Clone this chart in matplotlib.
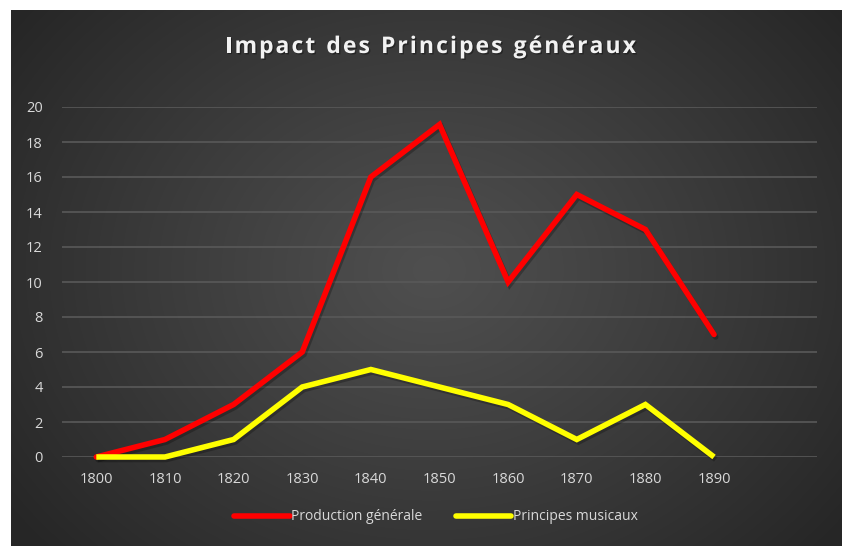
import numpy as np
import matplotlib
matplotlib.use("Agg")
from matplotlib import pyplot as plt
from matplotlib import patheffects as pe


YEARS = ["1800", "1810", "1820", "1830", "1840", "1850", "1860", "1870", "1880", "1890"]
PRODUCTION = [0, 1, 3, 6, 16, 19, 10, 15, 13, 7]
MUSICAUX = [0, 0, 1, 4, 5, 4, 3, 1, 3, 0]
Y_TICKS = [0, 2, 4, 6, 8, 10, 12, 14, 16, 18, 20]

TITLE = "Impact des Principes généraux"
LABEL_PROD = "Production générale"
LABEL_MUS = "Principes musicaux"

W, H = 843, 546
FONT = "Open Sans"
TEXT_COLOR = "#d9d9d9"


def px_box(x0: float, y0: float, x1: float, y1: float) -> list[float]:
    # pixel coords (top-left origin) -> figure fraction [left, bottom, width, height]
    return [x0 / W, 1 - y1 / H, (x1 - x0) / W, (y1 - y0) / H]


def spaced_title(fig, text: str, x0: float, x1: float, y: float, **kw) -> None:
    # draw title char by char so letter spacing can be widened like the original
    renderer = fig.canvas.get_renderer()
    widths = []
    for ch in text:
        t = fig.text(0, 0, ch if ch != " " else "a", **kw)
        widths.append(t.get_window_extent(renderer).width * (0.5 if ch == " " else 1.0))
        t.remove()
    extra = ((x1 - x0) - sum(widths)) / (len(text) - 1)
    x = x0
    for ch, w in zip(text, widths):
        if ch != " ":
            fig.text(x / W, 1 - y / H, ch, ha="left", va="center", **kw)
        x += w + extra


def main() -> None:
    plt.rcParams["font.family"] = [FONT, "DejaVu Sans"]
    fig = plt.figure(figsize=(W / 100, H / 100), dpi=100)
    fig.patch.set_facecolor("white")

    # dark panel with radial gradient
    bg = fig.add_axes(px_box(11, 10, 842, 546), zorder=-10)
    yy, xx = np.mgrid[0:536, 0:831]
    cx, cy = 420.0, 260.0
    r = np.sqrt(((xx - cx) / 520.0) ** 2 + ((yy - cy) / 420.0) ** 2)
    r = np.clip(r, 0, 1)
    val = 0.31 - (0.31 - 0.15) * r ** 1.1
    img = np.dstack([val, val, val])
    bg.imshow(img, aspect="auto", interpolation="bilinear")
    bg.axis("off")

    ax = fig.add_axes(px_box(62, 107, 817, 457))
    ax.set_facecolor("none")
    x = np.arange(len(YEARS))

    shadow = [pe.SimpleLineShadow(offset=(1.2, -1.8), shadow_color="black", alpha=0.25), pe.Normal()]
    ax.plot(x, PRODUCTION, color="#ff0000", lw=4.0, label=LABEL_PROD, clip_on=False,
            solid_capstyle="round", solid_joinstyle="miter", path_effects=shadow, zorder=3)
    ax.plot(x, MUSICAUX, color="#ffff00", lw=4.0, label=LABEL_MUS, clip_on=False,
            solid_capstyle="butt", solid_joinstyle="miter", path_effects=shadow, zorder=3)

    ax.set_xlim(-0.5, len(YEARS) + 0.5)
    ax.set_ylim(0, 20)
    ax.set_yticks(Y_TICKS)
    ax.set_xticks(x)
    ax.set_xticklabels(YEARS)
    ax.grid(axis="y", color="#595959", lw=1.2)
    ax.set_axisbelow(True)
    for s in ax.spines.values():
        s.set_visible(False)
    ax.tick_params(axis="both", length=0, colors=TEXT_COLOR, labelsize=10.5)
    ax.tick_params(axis="y", pad=14)
    ax.tick_params(axis="x", pad=11)

    spaced_title(fig, TITLE, 225, 636, 47, color="#f2f2f2", fontsize=16.5, fontweight="bold",
                 path_effects=[pe.withSimplePatchShadow(offset=(1, -1), shadow_rgbFace="black", alpha=0.35)])

    leg = fig.legend(loc="center", bbox_to_anchor=(436 / W, 1 - 517 / H), ncol=2, frameon=False,
                     handlelength=4.0, handletextpad=0.1, columnspacing=2.4, fontsize=10)
    for t in leg.get_texts():
        t.set_color(TEXT_COLOR)
    for line in leg.get_lines():
        line.set_path_effects([])
        line.set_linewidth(4.0)
        line.set_solid_capstyle("round")

    fig.savefig("out.png", dpi=100)


if __name__ == "__main__":
    main()
